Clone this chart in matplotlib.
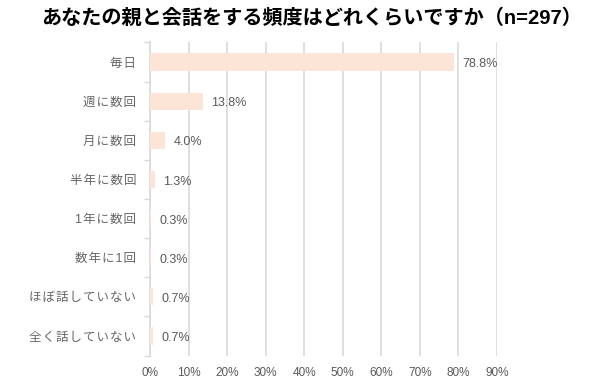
import matplotlib.pyplot as plt
import numpy as np

plt.rcParams['font.family'] = ['Liberation Sans', 'Noto Sans CJK JP', 'DejaVu Sans']

title = 'あなたの親と会話をする頻度はどれくらいですか（n=297）'
categories = ['毎日', '週に数回', '月に数回', '半年に数回', '1年に数回', '数年に1回', 'ほぼ話していない', '全く話していない']
values = [78.8, 13.8, 4.0, 1.3, 0.3, 0.3, 0.7, 0.7]
xticks = [0, 10, 20, 30, 40, 50, 60, 70, 80, 90]

grey = '#595959'
grid = '#D9D9D9'

fig = plt.figure(figsize=(6, 3.84), dpi=100)
ax = fig.add_axes([0.25, 0.074, 0.578, 0.8155])

y = np.arange(len(categories))
ax.barh(y, values, height=0.44, color='#FCE4D6', zorder=3)

for yi, v in zip(y, values):
    ax.annotate(f'{v:.1f}%', (v, yi), xytext=(6, -1.5), textcoords='offset points',
                va='center', ha='left', fontsize=9, color=grey, zorder=4)

ax.set_xlim(0, 90)
ax.set_ylim(len(categories) - 0.5, -0.5)
ax.set_xticks(xticks)
ax.set_xticklabels([f'{t}%' for t in xticks])
ax.set_yticks(y)
# the original labels are letter-spaced, a hair space between characters
ax.set_yticklabels(['\u200a'.join(c) for c in categories])
ax.set_yticks(np.arange(-0.5, len(categories)), minor=True)

ax.xaxis.grid(True, color=grid, linewidth=1.2, zorder=0)
ax.tick_params(axis='x', length=0, pad=8, labelsize=8.5, labelcolor=grey)
ax.tick_params(axis='y', which='major', length=0, pad=10, labelsize=9, labelcolor='#666666')
ax.tick_params(axis='y', which='minor', length=4, color=grid, width=1)

for s in ['top', 'right', 'bottom']:
    ax.spines[s].set_visible(False)
ax.spines['left'].set_color(grid)
ax.spines['left'].set_linewidth(1.2)

fig.text(0.52, 0.953, title, ha='center', va='center', fontsize=14.5, fontweight='bold',
         color='black')

fig.savefig('out.png', dpi=100)
